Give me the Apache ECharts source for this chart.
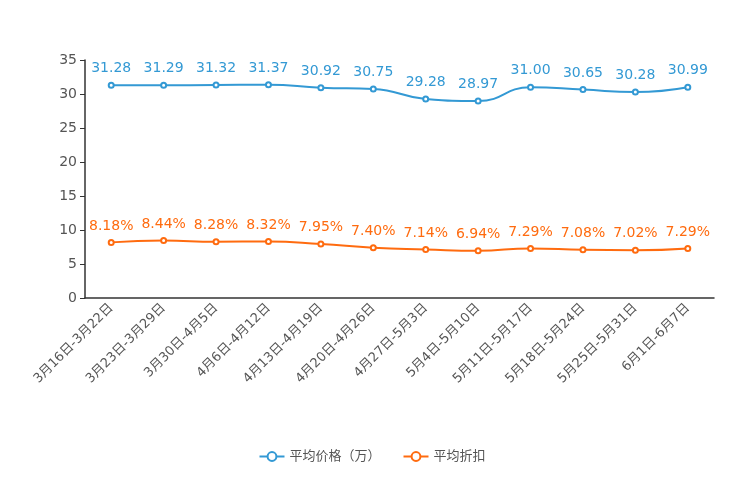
<!DOCTYPE html>
<html><head><meta charset="utf-8">
<script src="https://cdn.jsdelivr.net/npm/echarts@6/dist/echarts.min.js"></script>
<style>html,body{margin:0;padding:0;background:#fff}#c{width:744px;height:496px}</style>
</head><body><div id="c"></div>
<script>
var categories = ['3月16日-3月22日','3月23日-3月29日','3月30日-4月5日','4月6日-4月12日','4月13日-4月19日','4月20日-4月26日','4月27日-5月3日','5月4日-5月10日','5月11日-5月17日','5月18日-5月24日','5月25日-5月31日','6月1日-6月7日'];
var avgPrice = [31.28,31.29,31.32,31.37,30.92,30.75,29.28,28.97,31.00,30.65,30.28,30.99];
var avgDiscount = [8.18,8.44,8.28,8.32,7.95,7.40,7.14,6.94,7.29,7.08,7.02,7.29];
var yTicks = [0,5,10,15,20,25,30,35];
var chart = echarts.init(document.getElementById('c'));
var font = 'DejaVu Sans, Noto Sans CJK SC, sans-serif';
chart.setOption({
  textStyle:{fontFamily:font},
  grid:{left:85,right:30,top:60,bottom:198},
  legend:{bottom:28,left:'center',itemWidth:25,itemHeight:11,itemGap:22,textStyle:{fontSize:13,color:'#555',fontFamily:font},
    data:['平均价格（万）','平均折扣']},
  xAxis:{type:'category',data:categories,boundaryGap:true,
    axisLine:{lineStyle:{color:'#333',width:1.5}},
    axisTick:{alignWithLabel:false,lineStyle:{color:'#555'}},
    axisLabel:{rotate:45,fontSize:13,color:'#555',interval:0,fontFamily:font}},
  yAxis:{type:'value',min:yTicks[0],max:yTicks[yTicks.length-1],interval:5,
    splitLine:{show:false},
    axisLine:{show:true,lineStyle:{color:'#333',width:1.5}},
    axisTick:{show:true,lineStyle:{color:'#333'}},
    axisLabel:{fontSize:14,color:'#555',fontFamily:font}},
  series:[
    {name:'平均价格（万）',type:'line',smooth:true,data:avgPrice,symbol:'emptyCircle',symbolSize:5,
     itemStyle:{color:'#3399D4'},lineStyle:{width:2,color:'#3399D4'},
     label:{show:true,position:'top',distance:6,fontSize:14,color:'#3399D4',formatter:function(p){return p.value.toFixed(2);}}},
    {name:'平均折扣',type:'line',smooth:true,data:avgDiscount,symbol:'emptyCircle',symbolSize:5,
     itemStyle:{color:'#FF6B0F'},lineStyle:{width:2,color:'#FF6B0F'},
     label:{show:true,position:'top',distance:6,fontSize:14,color:'#FF6B0F',formatter:function(p){return p.value.toFixed(2)+'%';}}}
  ]
});
</script></body></html>
